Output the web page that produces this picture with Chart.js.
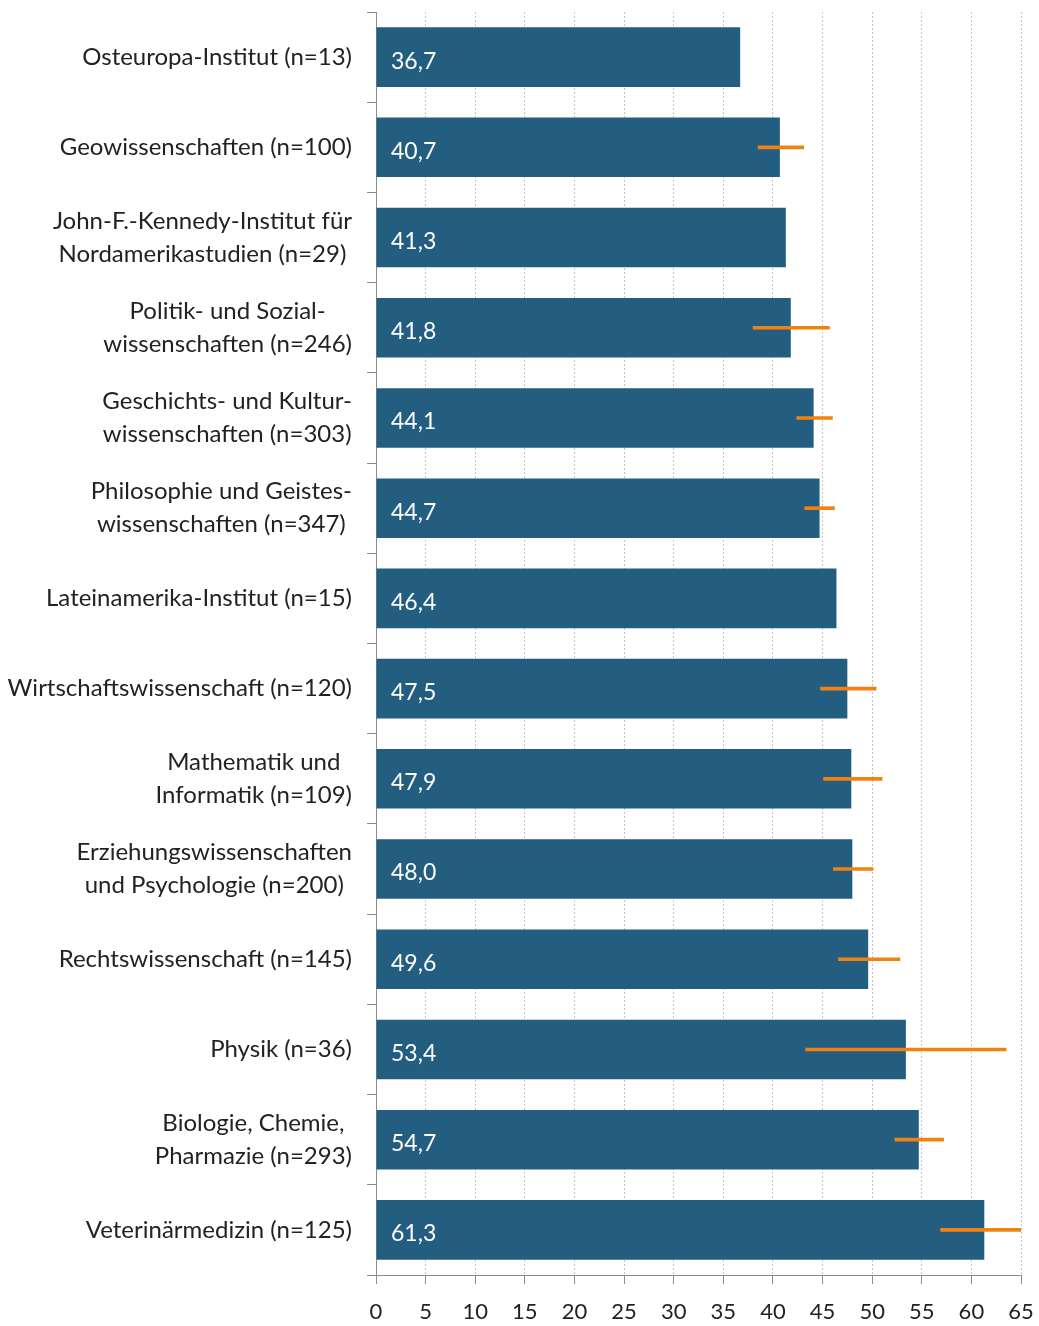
<!DOCTYPE html>
<html>
<head>
<meta charset="utf-8">
<script src="https://cdn.jsdelivr.net/npm/chart.js@4/dist/chart.umd.min.js"></script>
<style>
  html, body { margin: 0; padding: 0; background: #ffffff; }
  #wrap { width: 1039px; height: 1326px; position: relative; }
</style>
</head>
<body>
<div id="wrap"><canvas id="c"></canvas></div>
<script>
const categories = [
  ["Osteuropa-Institut (n=13)"],
  ["Geowissenschaften (n=100)"],
  ["John-F.-Kennedy-Institut für", "Nordamerikastudien (n=29)"],
  ["Politik- und Sozial-", "wissenschaften (n=246)"],
  ["Geschichts- und Kultur-", "wissenschaften (n=303)"],
  ["Philosophie und Geistes-", "wissenschaften (n=347)"],
  ["Lateinamerika-Institut (n=15)"],
  ["Wirtschaftswissenschaft (n=120)"],
  ["Mathematik und", "Informatik (n=109)"],
  ["Erziehungswissenschaften", "und Psychologie (n=200)"],
  ["Rechtswissenschaft (n=145)"],
  ["Physik (n=36)"],
  ["Biologie, Chemie,", "Pharmazie (n=293)"],
  ["Veterinärmedizin (n=125)"]
];
const values = [36.7, 40.7, 41.3, 41.8, 44.1, 44.7, 46.4, 47.5, 47.9, 48.0, 49.6, 53.4, 54.7, 61.3];
const valueLabels = ["36,7", "40,7", "41,3", "41,8", "44,1", "44,7", "46,4", "47,5", "47,9", "48,0", "49,6", "53,4", "54,7", "61,3"];
const errLow  = [null, 38.5, null, 38.0, 42.4, 43.2, null, 44.8, 45.1, 46.1, 46.6, 43.3, 52.3, 56.9];
const errHigh = [null, 43.1, null, 45.7, 46.0, 46.2, null, 50.4, 51.0, 50.1, 52.8, 63.5, 57.2, 65.0];
const xMin = 0, xMax = 65, xStep = 5;

const FONT = "Lato";
const BAR_COLOR = "#235e80";
const ERR_COLOR = "#f0820f";

const errData = errLow.map((lo, i) => (lo === null ? null : [lo, errHigh[i]]));

const labelPlugin = {
  id: "labels",
  afterDatasetsDraw(chart) {
    const ctx = chart.ctx;
    const yScale = chart.scales.y;
    const area = chart.chartArea;
    ctx.save();
    ctx.font = "23px " + FONT;
    ctx.fillStyle = "#ffffff";
    ctx.textAlign = "left";
    ctx.textBaseline = "middle";
    values.forEach((v, i) => {
      const y = yScale.getPixelForValue(i);
      ctx.fillText(valueLabels[i], area.left + 15, y + 4);
    });
    ctx.fillStyle = "#222222";
    ctx.font = "24px " + FONT;
    const rightEdge = 352;
    const lineH = 33;
    categories.forEach((lines, i) => {
      const yc = yScale.getPixelForValue(i);
      const widths = lines.map(l => ctx.measureText(l).width);
      const maxW = Math.max(...widths);
      const cx = rightEdge - maxW / 2;
      ctx.textAlign = "center";
      const n = lines.length;
      lines.forEach((l, k) => {
        const y = yc + (k - (n - 1) / 2) * lineH;
        ctx.fillText(l, cx, y);
      });
    });
    ctx.restore();
  }
};

new Chart(document.getElementById("c"), {
  type: "bar",
  data: {
    labels: categories.map(c => c.join(" ")),
    datasets: [
      {
        label: "Fehler",
        data: errData,
        backgroundColor: ERR_COLOR,
        borderWidth: 0,
        barThickness: 3,
        grouped: false,
        order: 0
      },
      {
        label: "Wert",
        data: values,
        backgroundColor: BAR_COLOR,
        borderWidth: 0,
        barPercentage: 0.66,
        categoryPercentage: 1.0,
        grouped: false,
        order: 1
      }
    ]
  },
  options: {
    indexAxis: "y",
    responsive: true,
    maintainAspectRatio: false,
    animation: false,
    layout: { padding: { left: 0, right: 18, top: 12, bottom: 0 } },
    plugins: { legend: { display: false }, tooltip: { enabled: false } },
    scales: {
      x: {
        position: "bottom",
        min: xMin,
        max: xMax,
        afterFit(scale) { scale.height = 51; scale.paddingLeft = 0; scale.paddingRight = 0; },
        ticks: {
          stepSize: xStep,
          color: "#222222",
          font: { family: FONT, size: 22 },
          padding: 15,
          maxRotation: 0,
          autoSkip: false
        },
        grid: {
          color: "#c4c4c4",
          lineWidth: 1,
          drawTicks: true,
          tickLength: 9,
          tickColor: "#8c8c8c",
          tickWidth: 1
        },
        border: { display: true, color: "#8c8c8c", width: 1, dash: [2, 2] }
      },
      y: {
        position: "left",
        afterFit(scale) { scale.width = 376; scale.paddingTop = 0; scale.paddingBottom = 0; },
        ticks: { display: false },
        grid: {
          offset: true,
          drawOnChartArea: false,
          drawTicks: true,
          tickLength: 9,
          tickColor: "#8c8c8c",
          tickWidth: 1
        },
        border: { display: true, color: "#8c8c8c", width: 1 }
      }
    }
  },
  plugins: [labelPlugin]
});
</script>
</body>
</html>
